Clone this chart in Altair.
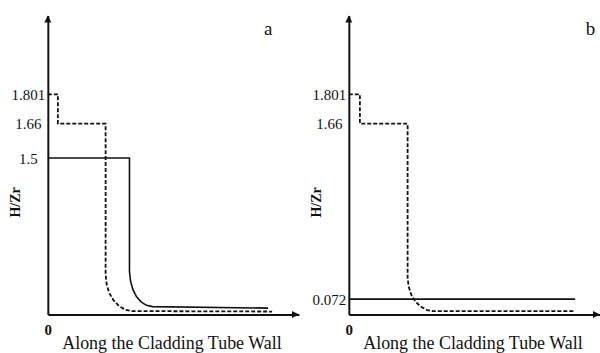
import altair as alt
import pandas as pd

# ---- data (schematic values) ----
# non-linear (schematic) H/Zr axis: breakpoints and their pixel positions
y_break_values = [0, 0.072, 1.5, 1.66, 1.801, 2.2]
y_break_pixels = [300, 284.5, 143, 108.5, 79, 0]

x_domain = [0, 100]
panel_letters = ["a", "b"]
x_title = "Along the Cladding Tube Wall"
y_title = "H/Zr"

# Panel a
a_dash_x = [0, 4.0, 4.0, 23.0, 23.0, 23.4, 24.4, 26.2, 28.4, 31.0, 33.7, 89.3]
a_dash_y = [1.801, 1.801, 1.66, 1.66, 0.319, 0.224, 0.135, 0.066, 0.039, 0.022, 0.016, 0.014]
a_solid_x = [0, 32.5, 32.5, 32.9, 33.8, 35.2, 37.1, 39.3, 41.7, 87.7]
a_solid_y = [1.5, 1.5, 0.350, 0.258, 0.173, 0.100, 0.059, 0.043, 0.037, 0.030]
a_ticks = [1.5, 1.66, 1.801]

# Panel b
b_dash_x = [0, 4.4, 4.4, 23.4, 23.4, 23.8, 24.8, 26.4, 28.6, 31.1, 33.7, 90.1]
b_dash_y = [1.801, 1.801, 1.66, 1.66, 0.289, 0.201, 0.119, 0.062, 0.037, 0.021, 0.016, 0.016]
b_solid_x = [0, 90.1]
b_solid_y = [0.072, 0.072]
b_ticks = [0.072, 1.66, 1.801]

FONT = "Liberation Serif"
INK = "#111111"
UP_ARROW = "M0,0L0.5,1L-0.5,1Z"
RIGHT_ARROW = "M0,0L-1,-0.5L-1,0.5Z"


def panel(dash_x, dash_y, solid_x, solid_y, ticks, letter, letter_x):
    dash = pd.DataFrame({"x": dash_x, "y": dash_y, "i": list(range(len(dash_x)))})
    solid = pd.DataFrame({"x": solid_x, "y": solid_y, "i": list(range(len(solid_x)))})
    up = pd.DataFrame({"x": [x_domain[0]], "y": [y_break_values[-1]]})
    right = pd.DataFrame({"x": [x_domain[1]], "y": [y_break_values[0]]})
    lab = pd.DataFrame({"t": [letter]})

    xs = alt.Scale(domain=x_domain, nice=False, zero=False)
    ys = alt.Scale(domain=y_break_values, range=y_break_pixels, nice=False, zero=False)
    xaxis = alt.Axis(values=[0], format=".4~g", title=x_title, ticks=False, grid=False,
                     labelPadding=8, labelFlush=False, labelFontWeight="bold",
                     titleFontSize=18, titleX=124, titleY=34, titleAlign="center",
                     titleBaseline="alphabetic")
    yaxis = alt.Axis(values=ticks, format=".4~g", title=y_title, ticks=False, grid=False,
                     labelAlign="center", labelBaseline="middle", labelPadding=20,
                     labelFlush=False, labelOverlap=False, titleFontSize=14,
                     titleFontWeight="bold", titleAngle=270,
                     titleX=-32, titleY=187, titleAlign="center", titleBaseline="middle")
    X = alt.X("x:Q", scale=xs, axis=xaxis)
    Y = alt.Y("y:Q", scale=ys, axis=yaxis)

    dash_line = alt.Chart(dash).mark_line(strokeDash=[4, 2], strokeWidth=1.8, color=INK).encode(
        x=X, y=Y, order="i:Q")
    solid_line = alt.Chart(solid).mark_line(strokeWidth=1.6, color=INK).encode(
        x=X, y=Y, order="i:Q")
    up_arrow = alt.Chart(up).mark_point(shape=UP_ARROW, size=196, filled=True, opacity=1,
                                        color=INK).encode(x=X, y=Y)
    right_arrow = alt.Chart(right).mark_point(shape=RIGHT_ARROW, size=196, filled=True,
                                              opacity=1, color=INK).encode(x=X, y=Y)
    letter_mark = alt.Chart(lab).mark_text(font=FONT, fontSize=19, color=INK, align="center",
                                           baseline="alphabetic").encode(
        text="t:N", x=alt.value(letter_x), y=alt.value(20))
    return alt.layer(dash_line, solid_line, up_arrow, right_arrow, letter_mark).properties(
        width=252, height=300)


pa = panel(a_dash_x, a_dash_y, a_solid_x, a_solid_y, a_ticks, panel_letters[0], 221)
pb = panel(b_dash_x, b_dash_y, b_solid_x, b_solid_y, b_ticks, panel_letters[1], 242.5)

chart = alt.hconcat(pa, pb, spacing=50, bounds="flush").properties(
    padding={"left": 9, "top": 15, "right": 0, "bottom": 0}, background="white"
).configure_view(strokeWidth=0).configure_axis(
    domainColor=INK, domainWidth=2, labelFont=FONT, labelFontSize=15, labelColor=INK,
    titleFont=FONT, titleFontWeight="normal", titleColor=INK
)

chart.save("out.html", embed_options={"renderer": "svg", "actions": False})
